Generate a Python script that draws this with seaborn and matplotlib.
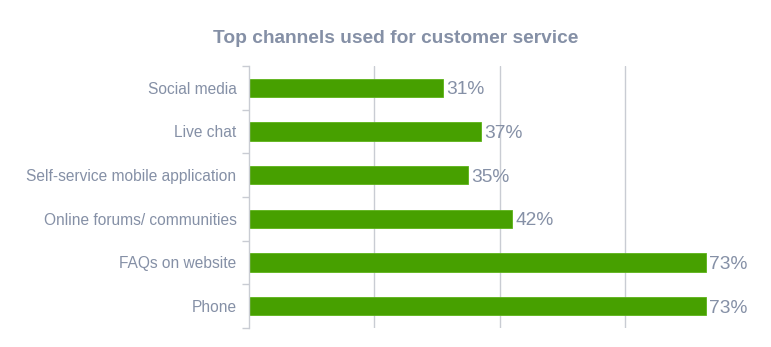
import matplotlib
matplotlib.use("Agg")
import matplotlib.pyplot as plt
import seaborn as sns
import pandas as pd
from matplotlib.ticker import FixedLocator

channels = ["Social media", "Live chat", "Self-service mobile application",
            "Online forums/ communities", "FAQs on website", "Phone"]
shares = [31, 37, 35, 42, 73, 73]

df = pd.DataFrame({"channel": channels, "share": shares})

sns.set_theme(style="white")
plt.rcParams["font.family"] = ["Liberation Sans", "DejaVu Sans"]

text_color = "#8590a6"
grid_color = "#c9ccd3"
bar_color = "#47a000"

fig = plt.figure(figsize=(7.71, 3.47), dpi=100)
ax = fig.add_axes([0.323, 0.055, 0.650, 0.755])

sns.barplot(data=df, x="share", y="channel", color=bar_color,
            width=0.42, saturation=1, ax=ax, edgecolor="#5cb318", linewidth=0.6)

ax.set_xlim(0, 80)
ax.set_ylim(len(channels) - 0.5, -0.5)
ax.xaxis.set_major_locator(FixedLocator([20, 40, 60]))
ax.set_xticklabels([])
ax.tick_params(axis="x", length=0)
ax.grid(axis="x", color=grid_color, linewidth=1.0)
ax.set_axisbelow(True)

for s in ["top", "right", "bottom"]:
    ax.spines[s].set_visible(False)
ax.spines["left"].set_color(grid_color)
ax.spines["left"].set_linewidth(1.0)

# small ticks between the category rows
ax.yaxis.set_minor_locator(FixedLocator([i - 0.5 for i in range(len(channels) + 1)]))
ax.tick_params(axis="y", which="major", left=False, length=0, pad=9,
               labelsize=11.2, labelcolor=text_color)
ax.tick_params(axis="y", which="minor", left=True, length=5,
               color=grid_color, width=1.0)
ax.set_xlabel("")
ax.set_ylabel("")

for i, v in enumerate(shares):
    ax.text(v + 0.5, i, f"{v}%", va="center_baseline", ha="left",
            fontsize=13.8, color=text_color)

fig.text(0.513, 0.89, "Top channels used for customer service", ha="center",
         va="center", fontsize=13.8, fontweight="bold", color=text_color)

fig.savefig("out.png", dpi=100)
